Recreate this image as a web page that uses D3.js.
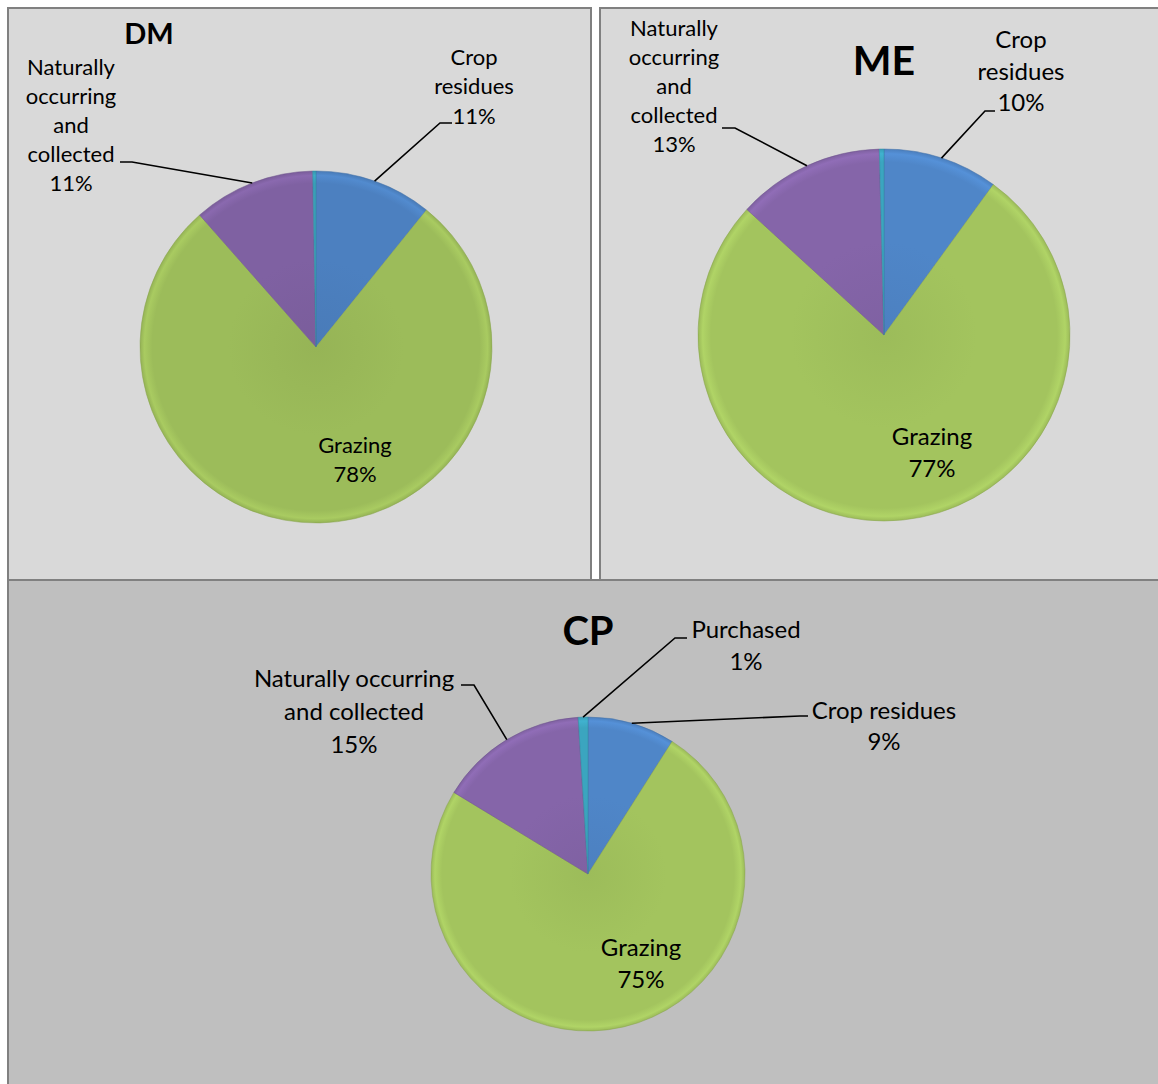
<!DOCTYPE html>
<html>
<head>
<meta charset="utf-8">
<script src="https://cdn.jsdelivr.net/npm/d3@7"></script>
<style>
  body { margin: 0; background: #ffffff; }
  svg { display: block; }
  text { font-family: Lato, "Noto Sans", sans-serif; fill: #000; }
</style>
</head>
<body>
<svg id="chart" width="1158" height="1084"></svg>
<script>
// ---- data ----
const panels = ["DM", "ME", "CP"];
const categories = ["Crop residues", "Grazing", "Naturally occurring and collected", "Purchased"];
const dmValues = [10.8, 77.7, 11.2, 0.3];
const meValues = [10.0, 76.8, 12.8, 0.4];
const cpValues = [9.0, 74.7, 15.3, 1.0];
const sliceColors = ["#4f86c8", "#a3c45e", "#8565a9", "#3ba5bf"];

// ---- layout (positions and styles only) ----
const layout = {
  DM: {
    values: dmValues, shade: 0.12,
    box: [8, 8, 583, 572], fill: "#d9d9d9",
    cx: 316, cy: 347, r: 176,
    title: { x: 149, y: 34, size: 29 },
    labels: [
      { lines: ["Crop", "residues"], x: 474, y: 57, lh: 29.5, fs: 22, start: [452, 123], elbow: [440, 123] },
      { lines: ["Grazing"], x: 355, y: 445, lh: 29.5, fs: 22 },
      { lines: ["Naturally", "occurring", "and", "collected"], x: 71, y: 67, lh: 29, fs: 22, start: [120, 162], elbow: [132, 162] },
      null
    ]
  },
  ME: {
    values: meValues, shade: 0,
    box: [600, 8, 580, 572], fill: "#d9d9d9",
    cx: 884, cy: 335, r: 186,
    title: { x: 884, y: 60, size: 41 },
    labels: [
      { lines: ["Crop", "residues"], x: 1021, y: 40, lh: 31.5, fs: 24, start: [995, 111], elbow: [985, 111] },
      { lines: ["Grazing"], x: 932, y: 437, lh: 32, fs: 24 },
      { lines: ["Naturally", "occurring", "and", "collected"], x: 674, y: 28, lh: 29, fs: 22, start: [722, 128], elbow: [735, 128] },
      null
    ]
  },
  CP: {
    values: cpValues, shade: 0,
    box: [8, 580, 1170, 520], fill: "#bfbfbf",
    cx: 588, cy: 874, r: 157,
    title: { x: 588, y: 631, size: 40 },
    labels: [
      { lines: ["Crop residues"], x: 884, y: 711, lh: 31, fs: 24, start: [808, 716], elbow: [800, 716] },
      { lines: ["Grazing"], x: 641, y: 948, lh: 32, fs: 24 },
      { lines: ["Naturally occurring", "and collected"], x: 354, y: 679, lh: 33, fs: 24, start: [461, 685], elbow: [474, 685] },
      { lines: ["Purchased"], x: 746, y: 630, lh: 32, fs: 24, start: [687, 638], elbow: [675, 638] }
    ]
  }
};

const svg = d3.select("#chart");
const defs = svg.append("defs");
const pct = d3.format(".0%");
const color = d3.scaleOrdinal().domain(categories).range(sliceColors);

// panel backgrounds (CP last so its top border runs across)
panels.forEach(p => {
  const L = layout[p];
  svg.append("rect")
    .attr("x", L.box[0]).attr("y", L.box[1])
    .attr("width", L.box[2]).attr("height", L.box[3])
    .attr("fill", L.fill).attr("stroke", "#808080").attr("stroke-width", 2);
});

panels.forEach(p => {
  const L = layout[p];
  const g = svg.append("g").attr("transform", `translate(${L.cx},${L.cy})`);
  const data = categories.map((c, i) => ({ cat: c, value: L.values[i], idx: i }));
  const pie = d3.pie().sort(null).value(d => d.value);
  const arcs = pie(data);
  const arc = d3.arc().innerRadius(0).outerRadius(L.r);

  // gradients for a soft bevel look
  categories.forEach((c, i) => {
    const base = d3.color(color(c)).darker(L.shade);
    const grad = defs.append("radialGradient")
      .attr("id", `g-${p}-${i}`)
      .attr("gradientUnits", "userSpaceOnUse")
      .attr("cx", 0).attr("cy", 0).attr("r", L.r);
    const stops = [
      [0, base.darker(0.12)],
      [0.5, base],
      [0.93, base],
      [0.975, base.brighter(0.22)],
      [1, base.darker(0.15)]
    ];
    stops.forEach(s => grad.append("stop").attr("offset", s[0]).attr("stop-color", s[1].formatHex()));
  });

  g.selectAll("path.slice").data(arcs).join("path")
    .attr("class", "slice")
    .attr("d", arc)
    .attr("fill", d => `url(#g-${p}-${d.data.idx})`)
    .attr("stroke", d => d3.color(color(d.data.cat)).darker(0.5).formatHex())
    .attr("stroke-width", 0.5);

  // title
  svg.append("text")
    .attr("x", L.title.x).attr("y", L.title.y).attr("dy", "0.36em")
    .attr("text-anchor", "middle")
    .attr("font-weight", "bold")
    .attr("font-size", L.title.size)
    .text(p);

  // labels & leader lines
  arcs.forEach((d, i) => {
    const lab = L.labels[i];
    if (!lab) return;
    const lines = lab.lines.concat([pct(d.data.value / 100)]);
    const t = svg.append("text")
      .attr("text-anchor", "middle")
      .attr("font-size", lab.fs);
    lines.forEach((ln, k) => {
      t.append("tspan")
        .attr("x", lab.x).attr("y", lab.y + k * lab.lh).attr("dy", "0.35em")
        .text(ln);
    });
    if (lab.start) {
      const am = (d.startAngle + d.endAngle) / 2;
      const ex = L.cx + Math.sin(am) * L.r;
      const ey = L.cy - Math.cos(am) * L.r;
      svg.append("path")
        .attr("d", d3.line()([lab.start, lab.elbow, [ex, ey]]))
        .attr("fill", "none").attr("stroke", "#000").attr("stroke-width", 1.6);
    }
  });
});
</script>
</body>
</html>
